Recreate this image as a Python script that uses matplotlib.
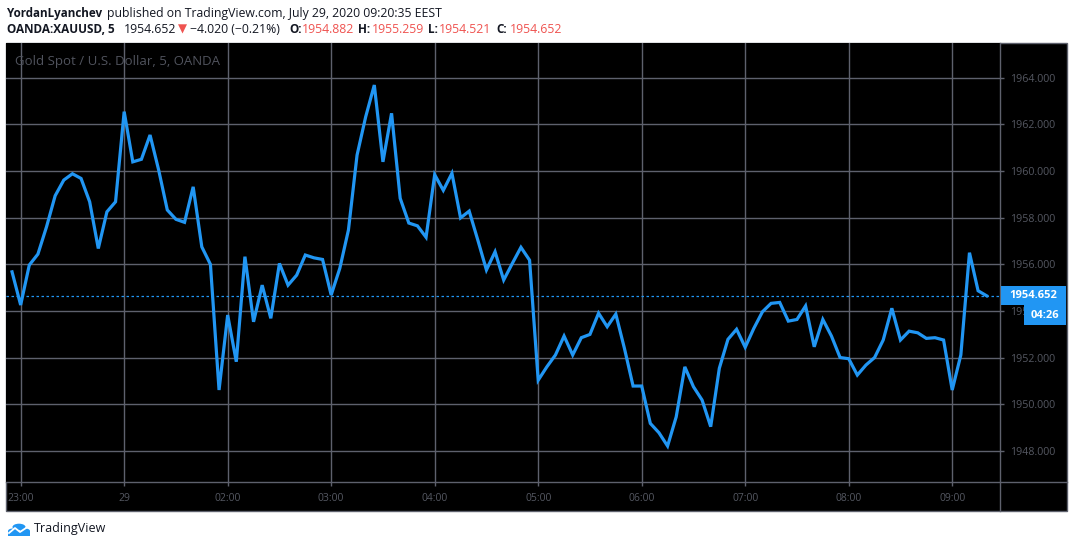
import numpy as np
import matplotlib
matplotlib.use("Agg")
import matplotlib.pyplot as plt
from matplotlib.patches import Rectangle, Circle
from matplotlib.lines import Line2D

# 5 minute closes, first bar is 22:55, last bar is 09:20
closes = [1955.68, 1954.26, 1955.97, 1956.44, 1957.61, 1958.94, 1959.61, 1959.88,
          1959.68, 1958.68, 1956.68, 1958.25, 1958.68, 1962.54, 1960.39, 1960.50,
          1961.54, 1960.04, 1958.33, 1957.93, 1957.80, 1959.32, 1956.75, 1956.00,
          1950.62, 1953.83, 1951.83, 1956.33, 1953.54, 1955.11, 1953.69, 1956.04,
          1955.11, 1955.54, 1956.40, 1956.28, 1956.21, 1954.69, 1955.83, 1957.47,
          1960.68, 1962.32, 1963.68, 1960.39, 1962.47, 1958.83, 1957.77, 1957.65,
          1957.16, 1959.84, 1959.17, 1959.90, 1957.99, 1958.28, 1957.04, 1955.76,
          1956.54, 1955.33, 1956.04, 1956.73, 1956.18, 1951.04, 1951.61, 1952.12,
          1952.93, 1952.12, 1952.86, 1953.00, 1953.91, 1953.33, 1953.87, 1952.40,
          1950.79, 1950.79, 1949.19, 1948.79, 1948.22, 1949.47, 1951.61, 1950.76,
          1950.19, 1949.05, 1951.55, 1952.79, 1953.22, 1952.45, 1953.26, 1953.97,
          1954.33, 1954.37, 1953.57, 1953.64, 1954.22, 1952.47, 1953.64, 1952.93,
          1952.01, 1951.96, 1951.26, 1951.69, 1952.01, 1952.76, 1954.12, 1952.76,
          1953.14, 1953.07, 1952.83, 1952.86, 1952.76, 1950.62, 1952.12, 1956.50,
          1954.87, 1954.652]
bar_index = np.arange(len(closes)) - 1

hour_ticks = [0, 12, 24, 36, 48, 60, 72, 84, 96, 108]
hour_labels = ["23:00", "29", "02:00", "03:00", "04:00", "05:00",
               "06:00", "07:00", "08:00", "09:00"]
price_ticks = [1948, 1950, 1952, 1954, 1956, 1958, 1960, 1962, 1964]

last_price = 1954.652
countdown = "04:26"

W, H = 1073, 547
BLUE = "#2196f3"
GRID = "#5e616d"
LABEL = "#555862"
RED = "#ef5350"
INK = "#131722"
FONT = ["Open Sans", "DejaVu Sans"]


def fx(px):
    return px / W


def fy(py):
    return 1 - py / H


fig = plt.figure(figsize=(W / 100, H / 100), dpi=100)
fig.patch.set_facecolor("white")

# outer black frame of the chart
fig.patches.append(Rectangle((fx(6), fy(511)), fx(1067) - fx(6), fy(43) - fy(511),
                             transform=fig.transFigure, facecolor="black",
                             edgecolor=GRID, linewidth=1, zorder=-5))

ax = fig.add_axes([fx(6), fy(482), fx(1000) - fx(6), fy(43) - fy(482)])
ax.set_facecolor("black")
ax.set_xlim(-1.70, 113.54)
ax.set_ylim(1946.68, 1965.48)

ax.plot(bar_index, closes, color=BLUE, linewidth=2.3, solid_joinstyle="miter", zorder=3)
ax.axhline(last_price, color=BLUE, linewidth=0.9, linestyle=(0, (2, 2)), zorder=2)

ax.set_xticks(hour_ticks)
ax.set_xticklabels(hour_labels)
ax.set_yticks(price_ticks)
ax.set_yticklabels([f"{p:.3f}" for p in price_ticks])
ax.yaxis.tick_right()
ax.grid(True, color=GRID, linewidth=1)
ax.tick_params(axis="x", length=3, width=1, color=GRID, labelcolor=LABEL,
               labelsize=7.5, pad=5)
ax.tick_params(axis="y", length=3, width=1, color=GRID, labelcolor=LABEL,
               labelsize=7.7, pad=4)
for lab in ax.get_xticklabels() + ax.get_yticklabels():
    lab.set_family(FONT)
for s in ax.spines.values():
    s.set_visible(False)

# axis separators
fig.lines.append(Line2D([fx(1000), fx(1000)], [fy(43), fy(511)], color=GRID,
                        linewidth=1, transform=fig.transFigure))
fig.lines.append(Line2D([fx(6), fx(1067)], [fy(482), fy(482)], color=GRID,
                        linewidth=1, transform=fig.transFigure))

# legend watermark
fig.text(fx(15), fy(61), "Gold Spot / U.S. Dollar, 5, OANDA", color="#50535d",
         fontsize=9.5, family=FONT, va="center", ha="left")

# last price label and countdown
fig.patches.append(Rectangle((fx(1001), fy(305)), fx(1066) - fx(1001), fy(286) - fy(305),
                             transform=fig.transFigure, facecolor=BLUE,
                             edgecolor="none", zorder=5))
fig.text(fx(1033.5), fy(295.5), f"{last_price:.3f}", color="white", fontsize=8,
         fontweight="bold", family=FONT, ha="center", va="center", zorder=6)
fig.patches.append(Rectangle((fx(1024), fy(325)), fx(1066) - fx(1024), fy(305) - fy(325),
                             transform=fig.transFigure, facecolor=BLUE,
                             edgecolor="none", zorder=5))
fig.text(fx(1045), fy(315), countdown, color="white", fontsize=8,
         fontweight="bold", family=FONT, ha="center", va="center", zorder=6)

# header
fig.text(fx(7), fy(14), "YordanLyanchev", fontsize=8.4, fontweight="bold",
         family=FONT, va="center", color=INK)
fig.text(fx(107), fy(14), "published on TradingView.com, July 29, 2020 09:20:35 EEST",
         fontsize=8.8, family=FONT, va="center", color=INK)

pieces = [
    (7, "OANDA:XAUUSD, 5", INK, "bold", 8.5),
    (124, "1954.652", INK, "normal", 8.8),
    (178, "\u25bc", RED, "normal", 8.5),
    (190, "\u22124.020 (\u22120.21%)", INK, "normal", 8.8),
    (289, "O:", INK, "bold", 8.5),
    (302, "1954.882", RED, "normal", 8.8),
    (358, "H:", INK, "bold", 8.5),
    (372, "1955.259", RED, "normal", 8.8),
    (428, "L:", INK, "bold", 8.5),
    (439, "1954.521", RED, "normal", 8.8),
    (496, "C:", INK, "bold", 8.5),
    (510, "1954.652", RED, "normal", 8.8),
]
for x, txt, col, wt, fs in pieces:
    fig.text(fx(x), fy(29.5), txt, fontsize=fs, fontweight=wt, family=FONT,
             va="center", color=col)

# footer logo
for cx, cy, r in [(13, 531, 5), (19, 527, 6.5), (25, 531, 5)]:
    fig.patches.append(Circle((fx(cx), fy(cy)), r / W, transform=fig.transFigure,
                              facecolor=BLUE, edgecolor="none"))
fig.patches.append(Rectangle((fx(8), fy(536)), fx(30) - fx(8), fy(531) - fy(536),
                             transform=fig.transFigure, facecolor=BLUE, edgecolor="none"))
fig.lines.append(Line2D([fx(9), fx(15), fx(20), fx(29)], [fy(533), fy(528), fy(532), fy(526)],
                        color="white", linewidth=1.3, transform=fig.transFigure))
fig.text(fx(34), fy(528.5), "TradingView", fontsize=9, family=FONT, va="center",
         color=INK)

fig.savefig("out.png", dpi=100, facecolor="white")
